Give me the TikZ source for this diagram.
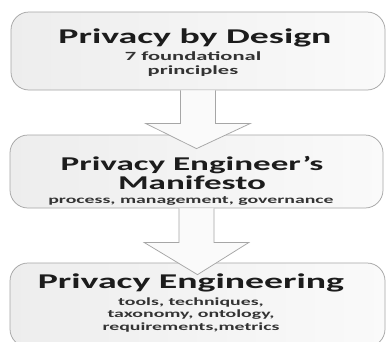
\documentclass[tikz,border=0pt]{standalone}
\usepackage{fontspec}
\setmainfont{Carlito}[FakeStretch=1.8]
\usetikzlibrary{calc}
\definecolor{edge}{HTML}{A6A6A6}
\definecolor{ink}{HTML}{1C1C1C}
\definecolor{subink}{HTML}{333333}
\tikzset{
  stage/.style={draw=edge, line width=0.75pt, rounded corners=18pt,
    left color=black!7, right color=black!2, shading angle=90,
    minimum width=#1, inner sep=0pt},
  flow/.style={draw=edge, line width=0.75pt, fill=black!2, line join=miter},
  headline/.style={text=ink, font=\bfseries\fontsize{#1}{19}\selectfont, align=center, inner sep=0pt},
  headline/.default=21,
  detail/.style 2 args={text=subink, font=\bfseries\fontsize{#1}{#2}\selectfont, align=center, inner sep=0pt},
}
\begin{document}
\begin{tikzpicture}[x=1pt, y=-1pt]
  \useasboundingbox (0,0) rectangle (388,341);
  \fill[white] (0,0) rectangle (388,341);

  % three stages
  \node[stage=374pt, minimum height=78pt] (design) at (198,51) {};
  \node[stage=373pt, minimum height=73pt] (manifesto) at (196.5,171.5) {};
  \node[stage=375pt, minimum height=84pt] (engineering) at (197.5,305) {};

  % block arrows between the stages
  \draw[flow] ($(design.south)+(-17.5,0)$) -- ($(design.south)+(-17.5,33)$)
    -- ($(design.south)+(-52.5,33)$) -- ($(manifesto.north)+(0,14)$)
    -- ($(design.south)+(52.5,33)$) -- ($(design.south)+(17.5,33)$)
    -- ($(design.south)+(17.5,0)$);
  \draw[flow] ($(manifesto.south)+(-17.5,0)$) -- ($(manifesto.south)+(-17.5,34)$)
    -- ($(manifesto.south)+(-52.5,34)$) -- ($(engineering.north)+(0,12)$)
    -- ($(manifesto.south)+(52.5,34)$) -- ($(manifesto.south)+(17.5,34)$)
    -- ($(manifesto.south)+(17.5,0)$);

  % labels
  \node[headline] (t1) at (195,38) {Privacy by Design};
  \node[detail={12.5}{14}] (s1) at (193,64) {7 foundational\\principles};
  \node[headline=19.5] (t2) at (192,172.5) {Privacy Engineer’s\\[0pt]Manifesto};
  \node[detail={11}{12}] (s2) at (191,201) {process, management, governance};
  \node[headline] (t3) at (191,283) {Privacy Engineering};
  \node[detail={11}{12.5}] (s3) at (191,314.5) {tools, techniques,\\taxonomy, ontology,\\requirements,metrics};
\end{tikzpicture}
\end{document}
